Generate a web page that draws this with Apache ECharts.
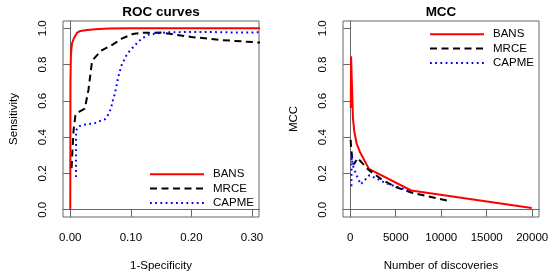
<!DOCTYPE html>
<html>
<head>
<meta charset="utf-8">
<script src="https://cdn.jsdelivr.net/npm/echarts@6/dist/echarts.min.js"></script>
<style>
html,body{margin:0;padding:0;background:#fff;}
#chart{width:560px;height:280px;}
</style>
</head>
<body>
<div id="chart"></div>
<script>
// ---- Data ----
const seriesNames = ['BANS', 'MRCE', 'CAPME'];

// ROC curves: x = 1-Specificity, y = Sensitivity
const rocBansX  = [0, 0.0003, 0.001, 0.0028, 0.006, 0.011, 0.0165, 0.028, 0.041, 0.063, 0.1, 0.35];
const rocBansY  = [0, 0.70, 0.85, 0.916, 0.945, 0.974, 0.985, 0.99, 0.994, 0.998, 1.0, 1.0];
const rocMrceX  = [0.0022, 0.0035, 0.0055, 0.0085, 0.015, 0.024, 0.030, 0.036, 0.045, 0.05, 0.068, 0.085, 0.103, 0.12, 0.15, 0.2, 0.25, 0.35];
const rocMrceY  = [0.23, 0.32, 0.44, 0.52, 0.54, 0.557, 0.66, 0.82, 0.855, 0.875, 0.906, 0.943, 0.968, 0.975, 0.976, 0.952, 0.935, 0.913];
const rocCapmeX = [0.0094, 0.0096, 0.0138, 0.025, 0.040, 0.049, 0.058, 0.063, 0.067, 0.0715, 0.0737, 0.079, 0.0847, 0.094, 0.1066, 0.1177, 0.131, 0.16, 0.22, 0.28, 0.35];
const rocCapmeY = [0.18, 0.437, 0.46, 0.47, 0.476, 0.489, 0.50, 0.526, 0.557, 0.618, 0.64, 0.73, 0.796, 0.86, 0.906, 0.943, 0.967, 0.978, 0.98, 0.976, 0.98];

// MCC: x = Number of discoveries, y = MCC
const mccBansX  = [60, 90, 170, 300, 450, 700, 1050, 2050, 6700, 19950];
const mccBansY  = [0.56, 0.845, 0.84, 0.50, 0.43, 0.365, 0.32, 0.225, 0.106, 0.009];
const mccMrceX  = [40, 120, 250, 400, 800, 2000, 3500, 5000, 6700, 11100];
const mccMrceY  = [0.385, 0.33, 0.27, 0.25, 0.285, 0.22, 0.165, 0.125, 0.095, 0.046];
const mccCapmeX = [130, 150, 250, 600, 1150, 2100, 4000, 6700];
const mccCapmeY = [0.13, 0.30, 0.25, 0.20, 0.14, 0.19, 0.145, 0.10];

// Tick labels
const rocXTicks = [0, 0.1, 0.2, 0.3];
const mccXTicks = [0, 5000, 10000, 15000, 20000];
const yTicks    = [0, 0.2, 0.4, 0.6, 0.8, 1.0];

const titles = ['ROC curves', 'MCC'];
const xNames = ['1-Specificity', 'Number of discoveries'];
const yNames = ['Sensitivity', 'MCC'];

// ---- Styles ----
const FONT = '"Liberation Sans", Arial, Helvetica, sans-serif';
const FS = 11.5;
const AXC = '#666';
const styles = {
  BANS:  {color: '#ff0000', width: 2, type: 'solid'},
  MRCE:  {color: '#000000', width: 2, type: [7, 4.5]},
  CAPME: {color: '#0000ff', width: 2, type: [1.8, 3.4]}
};

function zip(xs, ys) { return xs.map((x, i) => [x, ys[i]]); }

function mkXAxis(gi, min, max, ticks, fmt, name) {
  return {
    type: 'value', gridIndex: gi, min: min, max: max,
    name: name, nameLocation: 'middle', nameGap: 43,
    nameTextStyle: {fontFamily: FONT, fontSize: FS, color: '#000'},
    axisLine: {show: true, lineStyle: {color: AXC, width: 1}},
    axisTick: {show: true, inside: false, length: 7, customValues: ticks, lineStyle: {color: AXC, width: 1}},
    axisLabel: {show: true, customValues: ticks, formatter: fmt, margin: 15,
      fontFamily: FONT, fontSize: FS, color: '#000'},
    splitLine: {show: false}
  };
}
function mkYAxis(gi, name) {
  return {
    type: 'value', gridIndex: gi, min: -0.04, max: 1.04,
    name: name, nameLocation: 'middle', nameGap: 43, nameRotate: 90,
    nameTextStyle: {fontFamily: FONT, fontSize: FS, color: '#000'},
    axisLine: {show: true, lineStyle: {color: AXC, width: 1}},
    axisTick: {show: true, inside: false, length: 7, customValues: yTicks, lineStyle: {color: AXC, width: 1}},
    axisLabel: {show: true, customValues: yTicks, rotate: 90, margin: 14,
      formatter: v => v.toFixed(1), fontFamily: FONT, fontSize: FS, color: '#000'},
    splitLine: {show: false}
  };
}
function mkSeries(name, xi, xs, ys) {
  const s = styles[name];
  return {
    type: 'line', name: name, xAxisIndex: xi, yAxisIndex: xi,
    data: zip(xs, ys), symbol: 'none', showSymbol: false, clip: true,
    lineStyle: {color: s.color, width: s.width, type: s.type},
    itemStyle: {color: s.color},
    emphasis: {disabled: true}, silent: true
  };
}
function mkLegend(left, top) {
  return {
    orient: 'vertical', left: left, top: top, padding: 0,
    data: seriesNames, itemWidth: 54, itemHeight: 14, itemGap: 0.3,
    selectedMode: false,
    itemStyle: {opacity: 0},
    textStyle: {fontFamily: FONT, fontSize: FS, color: '#000', lineHeight: 14, padding: [0, 0, 0, 4]}
  };
}

const chart = echarts.init(document.getElementById('chart'), null, {renderer: 'canvas'});
chart.setOption({
  animation: false,
  backgroundColor: '#fff',
  title: [
    {text: titles[0], left: 161, top: 5, textAlign: 'center', padding: 0,
     textStyle: {fontFamily: FONT, fontSize: 13.5, fontWeight: 'bold', color: '#000'}},
    {text: titles[1], left: 441, top: 5, textAlign: 'center', padding: 0,
     textStyle: {fontFamily: FONT, fontSize: 13.5, fontWeight: 'bold', color: '#000'}}
  ],
  grid: [
    {left: 63, top: 21, width: 196, height: 196, show: true, borderColor: AXC, borderWidth: 1, backgroundColor: 'transparent'},
    {left: 343, top: 21, width: 196, height: 196, show: true, borderColor: AXC, borderWidth: 1, backgroundColor: 'transparent'}
  ],
  xAxis: [
    mkXAxis(0, -0.012, 0.3115, rocXTicks, v => v.toFixed(2), xNames[0]),
    mkXAxis(1, -798, 20748, mccXTicks, v => String(v), xNames[1])
  ],
  yAxis: [mkYAxis(0, yNames[0]), mkYAxis(1, yNames[1])],
  legend: [mkLegend(149, 167.3), mkLegend(429, 27.3)],
  series: [
    mkSeries('BANS', 0, rocBansX, rocBansY),
    mkSeries('MRCE', 0, rocMrceX, rocMrceY),
    mkSeries('CAPME', 0, rocCapmeX, rocCapmeY),
    mkSeries('BANS', 1, mccBansX, mccBansY),
    mkSeries('MRCE', 1, mccMrceX, mccMrceY),
    mkSeries('CAPME', 1, mccCapmeX, mccCapmeY)
  ]
});
</script>
</body>
</html>
